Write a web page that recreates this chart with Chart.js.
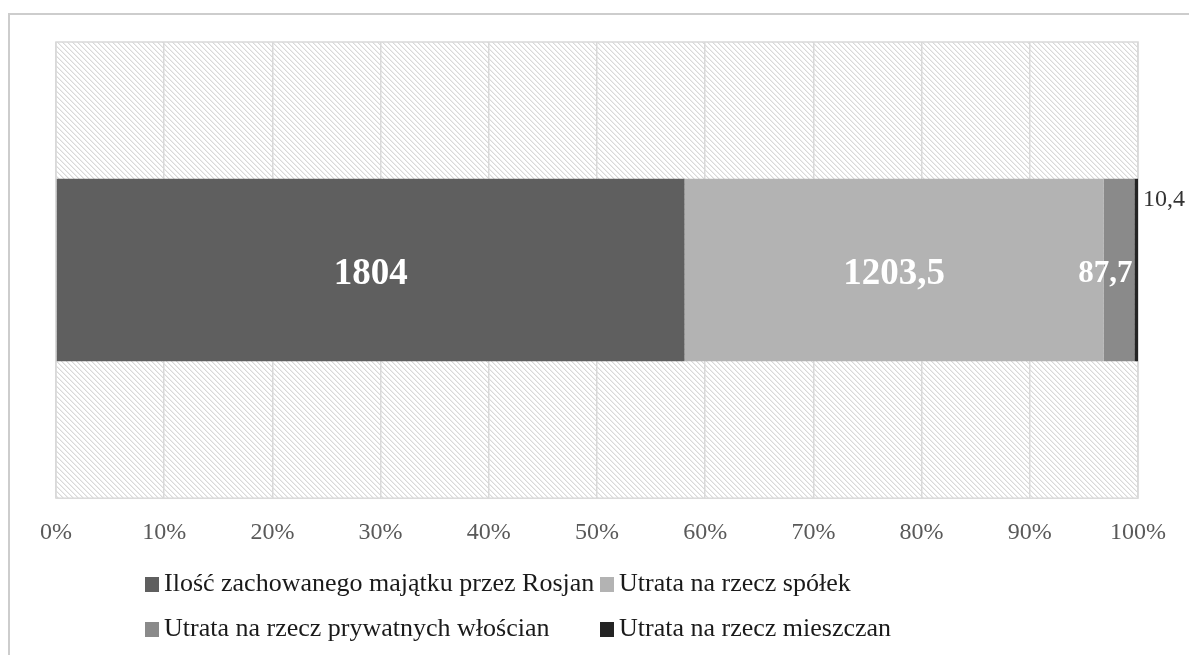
<!DOCTYPE html>
<html>
<head>
<meta charset="utf-8">
<script src="https://cdn.jsdelivr.net/npm/chart.js@4/dist/chart.umd.min.js"></script>
<style>
    html, body { margin: 0; padding: 0; background: #fff; }
    #wrap { position: relative; width: 1189px; height: 655px; overflow: hidden; }
    #frame {
        position: absolute; left: 8px; top: 13px; width: 1300px; height: 800px;
        border-top: 2px solid #cdcdcd; border-left: 2px solid #cdcdcd;
    }
    .legend-text {
        position: absolute; white-space: nowrap;
        font-family: "Liberation Serif", "Times New Roman", serif;
        font-size: 26px; color: #1a1a1a; line-height: 30px;
    }
    .legend-box { position: absolute; width: 14px; height: 15px; }
</style>
</head>
<body>
<div id="wrap">
    <div id="frame"></div>
    <canvas id="chart" width="1189" height="655"></canvas>
</div>
<script>
// dane
const categories = [''];
const seriesNames = [
    'Ilość zachowanego majątku przez Rosjan',
    'Utrata na rzecz spółek',
    'Utrata na rzecz prywatnych włościan',
    'Utrata na rzecz mieszczan'
];
const seriesValues = [1804, 1203.5, 87.7, 10.4];
const seriesColors = ['#5f5f5f', '#b3b3b3', '#8a8a8a', '#242424'];
const xTicks = [0, 10, 20, 30, 40, 50, 60, 70, 80, 90, 100];

const serif = '"Liberation Serif", "Times New Roman", serif';
const total = seriesValues.reduce((s, v) => s + v, 0);

// hatch pattern for plot background
function makeHatch() {
    const n = 5;
    const c = document.createElement('canvas');
    c.width = n; c.height = n;
    const g = c.getContext('2d');
    g.fillStyle = '#ffffff';
    g.fillRect(0, 0, n, n);
    for (let i = 0; i < n; i++) {
        g.fillStyle = '#d9d9d9';
        g.fillRect(i, i, 1, 1);
        g.fillStyle = '#eeeeee';
        g.fillRect((i + 1) % n, i, 1, 1);
    }
    return g.createPattern(c, 'repeat');
}

const plotBackground = {
    id: 'plotBackground',
    beforeDraw(chart) {
        const { ctx, chartArea: a } = chart;
        ctx.save();
        ctx.fillStyle = makeHatch();
        ctx.fillRect(a.left, a.top, a.right - a.left, a.bottom - a.top);
        ctx.strokeStyle = '#d9d9d9';
        ctx.lineWidth = 1.5;
        ctx.strokeRect(a.left, a.top, a.right - a.left, a.bottom - a.top);
        ctx.restore();
    }
};

// value labels
const valueLabels = {
    id: 'valueLabels',
    afterDatasetsDraw(chart) {
        const ctx = chart.ctx;
        ctx.save();
        chart.data.datasets.forEach((ds, i) => {
            const bar = chart.getDatasetMeta(i).data[0];
            const text = String(seriesValues[i]).replace('.', ',');
            const left = bar.base, right = bar.x;
            ctx.textBaseline = 'alphabetic';
            if (i < 2) {
                ctx.font = 'bold 37px ' + serif;
                ctx.fillStyle = '#ffffff';
                ctx.textAlign = 'center';
                ctx.fillText(text, (left + right) / 2, bar.y + 14);
            } else if (i === 2) {
                ctx.font = 'bold 31px ' + serif;
                ctx.fillStyle = '#ffffff';
                ctx.textAlign = 'right';
                ctx.fillText(text, right - 2, bar.y + 12);
            } else {
                ctx.font = '24px ' + serif;
                ctx.fillStyle = '#333333';
                ctx.textAlign = 'left';
                ctx.fillText(text, right + 5, bar.y - bar.height / 2 + 27);
            }
        });
        ctx.restore();
    }
};

const datasets = seriesNames.map((name, i) => ({
    label: name,
    data: [seriesValues[i] / total * 100],
    backgroundColor: seriesColors[i],
    borderWidth: 0,
    barPercentage: 0.4,
    categoryPercentage: 1.0
}));

new Chart(document.getElementById('chart'), {
    type: 'bar',
    data: { labels: categories, datasets: datasets },
    options: {
        indexAxis: 'y',
        responsive: false,
        animation: false,
        layout: { padding: { left: 56, right: 51, top: 42, bottom: 88 } },
        plugins: {
            legend: { display: false },
            tooltip: { enabled: false }
        },
        scales: {
            x: {
                stacked: true,
                min: 0,
                max: 100,
                afterBuildTicks(axis) { axis.ticks = xTicks.map(v => ({ value: v })); },
                grid: { color: '#d9d9d9', lineWidth: 1.5, drawTicks: false },
                border: { display: false },
                ticks: {
                    padding: 20,
                    color: '#595959',
                    font: { family: serif, size: 24 },
                    callback: v => v + '%'
                }
            },
            y: {
                stacked: true,
                display: false
            }
        }
    },
    plugins: [plotBackground, valueLabels]
});

// legend: two rows, two aligned columns
const legendCols = [145, 600];
const legendRows = [577, 622];
const wrap = document.getElementById('wrap');
seriesNames.forEach((name, i) => {
    const x = legendCols[i % 2], y = legendRows[Math.floor(i / 2)];
    const box = document.createElement('div');
    box.className = 'legend-box';
    box.style.left = x + 'px';
    box.style.top = y + 'px';
    box.style.background = seriesColors[i];
    wrap.appendChild(box);
    const txt = document.createElement('div');
    txt.className = 'legend-text';
    txt.style.left = (x + 19) + 'px';
    txt.style.top = (y - 9) + 'px';
    txt.textContent = name;
    wrap.appendChild(txt);
});
</script>
</body>
</html>
